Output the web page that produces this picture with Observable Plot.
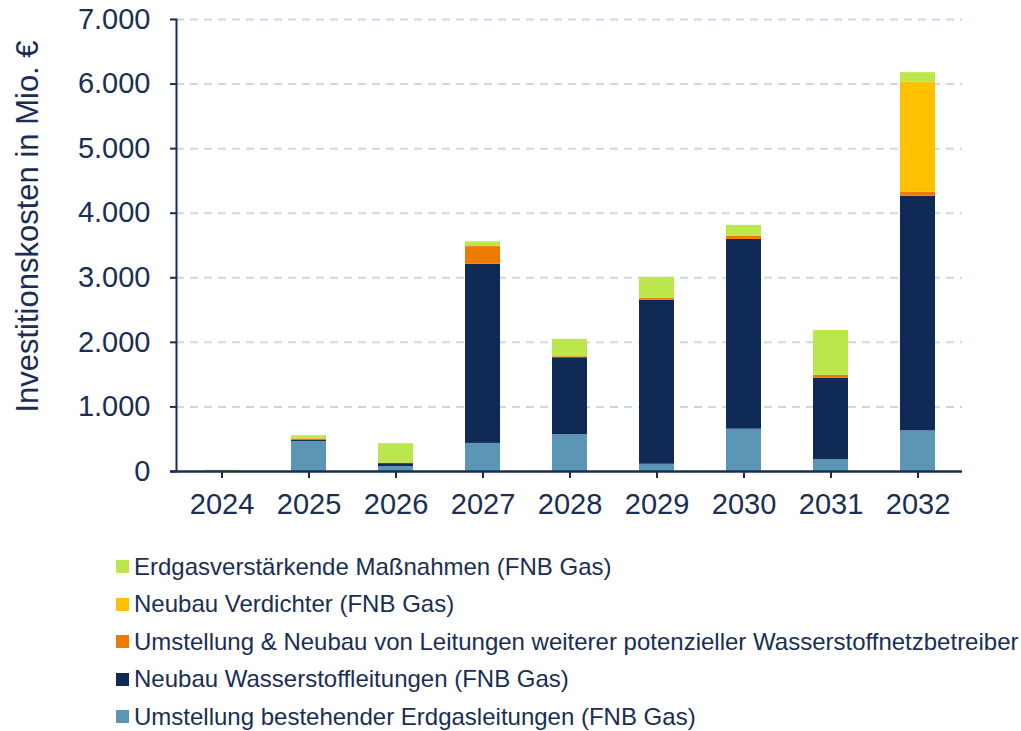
<!DOCTYPE html>
<html>
<head>
<meta charset="utf-8">
<script src="https://cdn.jsdelivr.net/npm/d3@7"></script>
<script src="https://cdn.jsdelivr.net/npm/@observablehq/plot@0.6"></script>
<style>
  body { margin: 0; background: #fff; font-family: "Liberation Sans", Arial, sans-serif; color: #1a2e55; }
  #legend { margin: 18px 0 0 116px; font-size: 24px; }
  .row { height: 37.5px; display: flex; align-items: center; white-space: nowrap; }
  .sw { width: 13px; height: 13px; margin-right: 5px; flex: none; }
</style>
</head>
<body>
<div id="chart"></div>
<div id="legend"></div>
<script>
const years = ["2024", "2025", "2026", "2027", "2028", "2029", "2030", "2031", "2032"];
const seriesNames = [
  "Umstellung bestehender Erdgasleitungen (FNB Gas)",
  "Neubau Wasserstoffleitungen (FNB Gas)",
  "Umstellung & Neubau von Leitungen weiterer potenzieller Wasserstoffnetzbetreiber",
  "Neubau Verdichter (FNB Gas)",
  "Erdgasverstärkende Maßnahmen (FNB Gas)"
];
const umstellung = [0, 465, 75, 435, 571, 112, 655, 183, 629];
const neubauH2 = [0, 15, 47, 2775, 1191, 2540, 2939, 1264, 3634];
const weitere = [0, 25, 8, 273, 15, 30, 47, 42, 62];
const verdichter = [0, 10, 0, 0, 0, 0, 0, 0, 1708];
const erdgas = [20, 40, 300, 73, 269, 326, 171, 694, 144];
const yTicks = [0, 1000, 2000, 3000, 4000, 5000, 6000, 7000];
const colors = ["#5b96b4", "#102a56", "#ee7a00", "#ffc000", "#bbe64c"];

const seriesValues = [umstellung, neubauH2, weitere, verdichter, erdgas];
const data = [];
seriesNames.forEach((s, i) => years.forEach((y, j) => data.push({year: y, series: s, value: seriesValues[i][j]})));

const navy = "#1a2e55";
const de = d3.formatLocale({decimal: ",", thousands: ".", grouping: [3], currency: ["", "€"]});
const fmt = de.format(",");

const chart = Plot.plot({
  width: 1021,
  height: 530,
  marginTop: 19,
  marginBottom: 59,
  marginLeft: 176,
  marginRight: 59,
  style: {fontSize: "29px", fontFamily: "Liberation Sans, Arial, sans-serif", color: navy, background: "#fff"},
  x: {domain: years, paddingInner: 0.6, paddingOuter: 0.3, label: null},
  y: {domain: [0, 7000], label: null},
  color: {domain: seriesNames, range: colors},
  marks: [
    Plot.gridY(yTicks.filter(d => d > 0), {stroke: "#c8d8f2", strokeOpacity: 1, strokeWidth: 2, strokeDasharray: "8,6"}),
    Plot.barY(data, {x: "year", y: "value", fill: "series", order: seriesNames}),
    Plot.axisY(yTicks, {tickFormat: fmt, tickSize: 6, tickPadding: 20, stroke: navy, strokeWidth: 2, label: null, fill: navy}),
    Plot.axisX({tickSize: 7, tickPadding: 15, stroke: navy, strokeWidth: 2, label: null, fill: navy}),
    Plot.frame({anchor: "left", stroke: navy, strokeWidth: 2}),
    Plot.ruleY([0], {stroke: navy, strokeWidth: 2.5, insetLeft: -6}),
    Plot.text(["Investitionskosten in Mio. €"], {frameAnchor: "left", textAnchor: "middle", dx: -148, dy: -19, rotate: -90, fontSize: 31, fill: navy})
  ]
});
document.getElementById("chart").appendChild(chart);

const legend = document.getElementById("legend");
for (let i = seriesNames.length - 1; i >= 0; i--) {
  const row = document.createElement("div");
  row.className = "row";
  const sw = document.createElement("span");
  sw.className = "sw";
  sw.style.background = colors[i];
  const t = document.createElement("span");
  t.textContent = seriesNames[i];
  row.appendChild(sw);
  row.appendChild(t);
  legend.appendChild(row);
}
</script>
</body>
</html>
